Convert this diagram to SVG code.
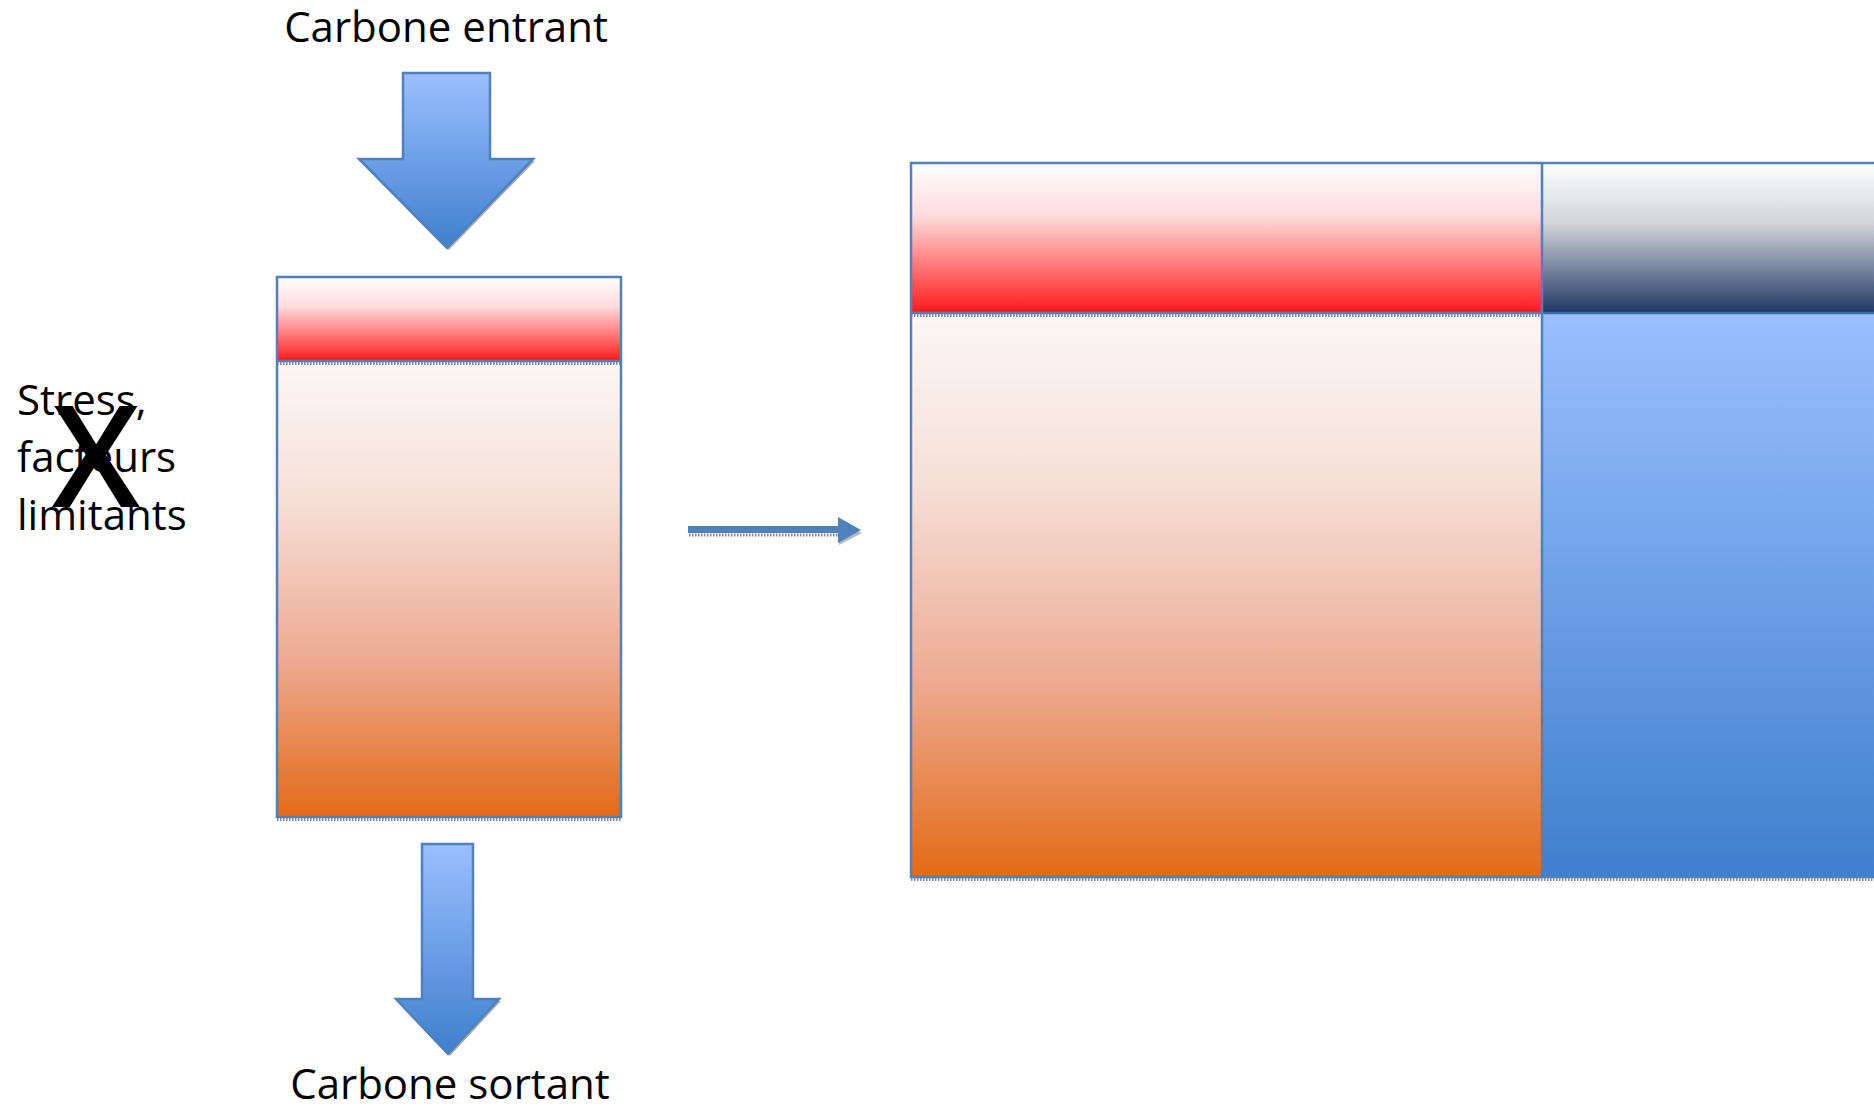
<svg xmlns="http://www.w3.org/2000/svg" width="1874" height="1107" viewBox="0 0 1874 1107">
<style>
.lbl{font-family:"Open Sans","Liberation Sans",sans-serif;font-size:42px;fill:#000}
.edge{stroke:#4f81bd;stroke-width:2.5}
.shadow{stroke:#8a8a8a;stroke-width:3;stroke-dasharray:1.5 1.5;fill:none}
</style>
<defs>
<linearGradient id="gRed" x1="0" y1="0" x2="0" y2="1"><stop offset="0" stop-color="#fefefe"/><stop offset="0.35" stop-color="#ffdcdc"/><stop offset="1" stop-color="#ff1a1a"/></linearGradient>
<linearGradient id="gOrange" x1="0" y1="0" x2="0" y2="1"><stop offset="0" stop-color="#fcf7f5"/><stop offset="0.3" stop-color="#f6e0d8"/><stop offset="0.65" stop-color="#edab92"/><stop offset="1" stop-color="#e36a16"/></linearGradient>
<linearGradient id="gNavy" x1="0" y1="0" x2="0" y2="1"><stop offset="0" stop-color="#ffffff"/><stop offset="0.4" stop-color="#d2d4d8"/><stop offset="1" stop-color="#1f3864"/></linearGradient>
<linearGradient id="gBlue" x1="0" y1="0" x2="0" y2="1"><stop offset="0" stop-color="#9abfff"/><stop offset="1" stop-color="#3f7fcd"/></linearGradient>
</defs>

<g id="label-entrant"><text class="lbl" x="446" y="42" text-anchor="middle">Carbone entrant</text></g>

<g id="arrow-in">
<polygon points="404,75 491,75 491,161 535,161 449,250 361,161 404,161" fill="#777" opacity="0.6"/>
<polygon points="403,73 490,73 490,159 533,159 447,248 359,159 403,159" fill="url(#gBlue)" class="edge" stroke-width="1.5"/>
</g>

<g id="stock-left">
<rect x="277" y="361" width="344" height="456" fill="url(#gOrange)"/>
<rect x="277" y="277" width="344" height="84" fill="url(#gRed)"/>
<line x1="277" y1="363.5" x2="621" y2="363.5" class="shadow"/>
<line x1="277" y1="819.5" x2="621" y2="819.5" class="shadow"/>
<rect x="277" y="277" width="344" height="540" fill="none" class="edge"/>
<line x1="277" y1="361" x2="621" y2="361" class="edge"/>
</g>

<g id="label-stress">
<text class="lbl" x="17" y="415">Stress,</text>
<text class="lbl" x="17" y="472">facteurs</text>
<text class="lbl" x="17" y="530">limitants</text>
<text x="96" y="507" text-anchor="middle" style="font-family:'Open Sans','Liberation Sans',sans-serif;font-size:142px;font-weight:600;fill:#000">X</text>
</g>

<g id="arrow-out">
<polygon points="423,846 474,846 474,1001 501,1001 450,1056 398,1001 423,1001" fill="#777" opacity="0.6"/>
<polygon points="422,844 473,844 473,999 499,999 448,1054 396,999 422,999" fill="url(#gBlue)" class="edge" stroke-width="1.5"/>
</g>

<g id="label-sortant"><text class="lbl" x="450" y="1099" text-anchor="middle">Carbone sortant</text></g>

<g id="connectors">
<line x1="689" y1="535" x2="838" y2="535" class="shadow"/>
<polygon points="839,545 862,533 839,522" fill="#888" opacity="0.6"/>
<polygon points="688,526 838,526 838,517 861,530 838,543 838,533 688,533" fill="#4f81bd"/>
</g>

<g id="stock-right">
<rect x="911" y="313" width="631" height="564" fill="url(#gOrange)"/>
<rect x="911" y="163" width="631" height="150" fill="url(#gRed)"/>
<rect x="1542" y="313" width="334" height="564" fill="url(#gBlue)"/>
<rect x="1542" y="163" width="334" height="150" fill="url(#gNavy)"/>
<line x1="911" y1="315.5" x2="1542" y2="315.5" class="shadow"/>
<line x1="911" y1="879.5" x2="1874" y2="879.5" class="shadow"/>
<path d="M1876,163 H911 V877 H1874" fill="none" class="edge"/>
<line x1="911" y1="313" x2="1542" y2="313" class="edge"/>
<line x1="1542" y1="313" x2="1874" y2="313" stroke="#3d6aa5" stroke-width="2.5"/>
<line x1="1542" y1="163" x2="1542" y2="877" class="edge"/>
</g>
</svg>
